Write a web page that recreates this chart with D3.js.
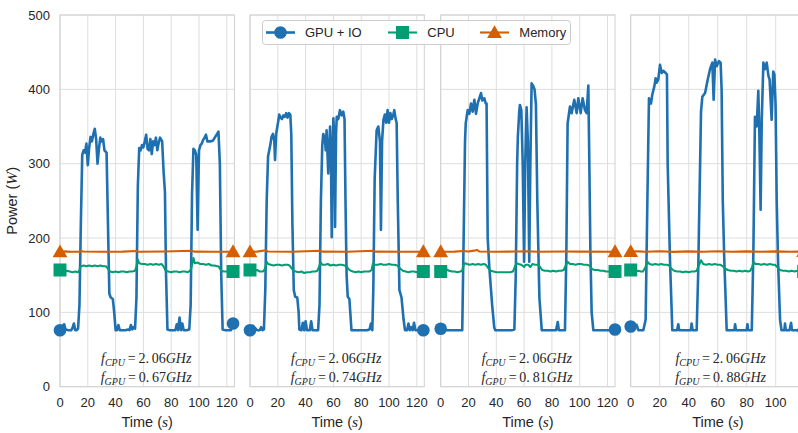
<!DOCTYPE html>
<html><head><meta charset="utf-8">
<script src="https://cdn.jsdelivr.net/npm/d3@7"></script>
<style>
body{margin:0;background:#fff}
text{font-family:"Liberation Sans",Arial,sans-serif;fill:#262626}
</style>
</head><body>
<svg id="chart" width="798" height="433"></svg>
<script>
// ---------------- DATA ----------------
const seriesNames = ["GPU + IO", "CPU", "Memory"];
const fCPU = ["2.06", "2.06", "2.06", "2.06"];
const fGPU = ["0.67", "0.74", "0.81", "0.88"];
const xMax = [125.5, 125.4, 125.4, 119.5];
const xTicks = [0, 20, 40, 60, 80, 100, 120];
const yTicks = [0, 100, 200, 300, 400, 500];

const gpu1 = [[0,76],[1,78],[2,82],[3,84],[4,77],[6,76],[8,76],[9,79],[10,85],[11,76],[12,76],[13,78],[14,110],[15,220],[16,312],[17,318],[18,315],[19,327],[20,298],[21,322],[22,336],[23,330],[24,340],[25,347],[26,333],[27,300],[28,320],[29,335],[30,330],[31,333],[32,318],[33.5,315],[34.5,220],[35.5,125],[36.5,120],[38,118],[39,100],[40,76],[41,76],[42,83],[43,76],[45,76],[47,76],[49,77],[50,76],[51,83],[52,77],[53,80],[54,78],[55,120],[56,270],[57,321],[58,318],[59,325],[60,322],[61,330],[62,339],[63,320],[64,318],[65,333],[66,313],[67,330],[68,325],[69,335],[70,318],[71,328],[72,335],[73.5,330],[74.5,290],[75.5,262],[76.3,150],[77.3,77],[79,76],[81,76],[83,76],[84,84],[85,76],[86,93],[87,76],[88,85],[89,76],[91,76],[93,77],[94,110],[95,260],[96,320],[97,318],[98,312],[99,211],[100,318],[101,325],[102,327],[103,332],[104,335],[105,339],[106,330],[108,330],[110,331],[111,334],[112,337],[113,340],[114,343],[115,300],[116,150],[117,77],[119,76],[121,76],[123,76],[124.5,85]];
const gpu2 = [[0,76],[1,78],[2,82],[3,80],[4,78],[5,76],[7,76],[8,80],[9,76],[10,77],[11,130],[12,250],[13,310],[14.4,323],[15.5,336],[16.5,340],[17.5,330],[18,305],[18.8,340],[19.7,350],[20.5,359],[21,366],[22,362],[23,360],[24,365],[25,363],[26,368],[27,362],[28,368],[29,366],[29.7,340],[30.5,220],[31.5,130],[32.5,121],[34,120],[35,100],[35.5,77],[37,76],[38,86],[39,76],[40,88],[41,76],[43,76],[44,88],[45,76],[47,76],[49,76],[50,110],[51,250],[52,325],[52.7,340],[53.9,332],[54.5,318],[55.1,345],[56.3,287],[57.6,350],[58.3,300],[58.8,201],[59.5,320],[60,361],[60.7,330],[61.2,215],[61.9,340],[62.4,363],[63.5,360],[64.7,372],[65.9,365],[67.1,370],[68,360],[68.7,250],[69.5,150],[70.3,121],[71.5,118],[72.5,90],[73,76],[75,76],[78,76],[81,76],[84,76],[86,77],[87,85],[88,76],[88.7,130],[89.7,280],[91.1,345],[92.3,350],[93.5,330],[94.2,211],[95,330],[96,359],[97,366],[98,355],[99,372],[100,355],[101,368],[102,360],[103,365],[103.8,372],[104.8,360],[105.5,355],[106.3,250],[107.5,130],[109,120],[110.5,90],[111.5,76],[113,76],[114,85],[115,76],[116,80],[117,76],[118,86],[119,76],[121,76],[123,76],[124.7,76]];
const gpu3 = [[0,78],[2,76],[5,76],[8,76],[11,76],[14,76],[15.5,76],[16.5,200],[17.5,330],[18,354],[19.4,372],[20.6,367],[21.8,381],[23,370],[24.2,386],[25.4,367],[26.6,381],[27.8,388],[29,395],[29.9,385],[31.4,388],[32.4,381],[33,381],[33.8,200],[35,160],[37,110],[38.5,80],[39.2,76],[42,76],[45,76],[48,76],[51,76],[53,77],[54,150],[55,300],[55.5,336],[56.5,370],[57,379],[58,372],[59,300],[60,168],[60.8,300],[61.8,376],[62.7,330],[63.7,168],[64.5,300],[65.4,408],[66.5,405],[67.5,400],[68.5,380],[69.5,250],[71,120],[72.7,76],[75,76],[78,76],[81,76],[83,76],[84.2,87],[85,76],[87,76],[89.4,76],[90.4,180],[91.3,354],[93,377],[94.2,368],[96.1,386],[97.8,368],[99,388],[100.7,368],[102.1,388],[103.8,372],[105,368],[106.2,405],[106.8,320],[107.7,180],[108.6,100],[109.8,76],[112,76],[115,76],[118,76],[121,76],[125.4,77]];
const gpu4 = [[0,81],[2,80],[4.1,83],[5.3,76],[7,76],[8.7,76],[10.3,90],[11.5,250],[12.6,388],[14,381],[14.9,393],[16.3,404],[17.2,415],[17.9,409],[19,413],[20.2,433],[21.4,422],[22.5,425],[24.1,422],[25,420],[25.5,300],[27.1,170],[28.7,76],[30,76],[32,76],[32.8,84],[33.5,76],[36,76],[39,76],[41.5,76],[42,85],[42.7,76],[45.5,76],[46.5,150],[48.5,370],[49.4,390],[51.3,395],[53.1,413],[54.7,427],[56.3,436],[57.2,386],[58.2,440],[59.3,431],[60.9,438],[62,436],[62.7,400],[63.5,250],[64.5,173],[66.2,76],[69,76],[71.5,76],[72,84],[72.6,76],[75,76],[78,76],[80,76],[80.5,84],[81,76],[83.5,76],[84.6,180],[85.7,363],[86.9,350],[88,398],[88.7,345],[89.6,238],[90.4,360],[91.5,436],[92.6,427],[93.8,436],[95,418],[95.8,413],[97.2,359],[98.3,424],[99.1,420],[99.9,380],[100.7,250],[101.6,170],[103,90],[104,76],[106,76],[106.4,85],[107,76],[109.5,76],[110.6,86],[111.2,76],[114,76],[117,76],[119.3,76]];

const cpu1 = [[0,157],[1,155],[3,154],[5,156],[7,155],[9,154],[11,155],[13,154],[14,157],[15,162],[17,163],[19,162],[21,163],[23,162],[25,163],[27,162],[29,163],[31,162],[33,162],[34,160],[35,157],[36,155],[38,154],[40,155],[42,154],[44,155],[46,155],[48,154],[50,155],[52,155],[54,156],[55,162],[56,171],[57,166],[59,165],[61,165],[63,164],[65,165],[67,164],[69,165],[71,164],[73,165],[74,163],[75,160],[76,156],[78,155],[80,154],[82,155],[84,155],[86,154],[88,155],[90,155],[92,154],[94,157],[95,164],[96,173],[97,166],[99,167],[101,165],[103,165],[105,164],[107,165],[109,163],[111,163],[113,162],[114,162],[115,159],[116,156],[118,155],[120,155],[122,154],[124.5,155]];
const cpu2 = [[0,157],[1,155],[3,156],[5,157],[7,155],[9,155],[10,156],[11,160],[12,168],[13,165],[15,164],[17,163],[19,164],[21,164],[23,163],[25,164],[27,164],[28.5,163],[30,159],[31.5,156],[33,155],[35,154],[37,155],[39,153],[41,154],[43,154],[45,155],[47,155],[48.5,156],[50,163],[51,167],[52,164],[54,164],[56,165],[58,163],[60,164],[62,163],[64,164],[66,164],[68,163],[69.5,162],[71,158],[72.5,156],[74,155],[76,154],[78,155],[80,154],[82,155],[84,155],[86,155],[87.5,157],[88.5,166],[90,164],[92,164],[94,165],[96,164],[98,164],[100,165],[102,164],[104,164],[106,163],[108,159],[110,156],[112,155],[114,154],[116,155],[118,155],[120,154],[122,155],[124.7,155]];
const cpu3 = [[0,155],[1,155],[2,157],[4,158],[6,156],[8,155],[10,155],[12,154],[14,155],[15.5,156],[16.5,164],[17.5,166],[19,165],[21,164],[23,165],[25,164],[27,165],[29,164],[31,165],[32.5,164],[34,160],[36,156],[38,155],[40,154],[42,154],[44,154],[46,154],[48,154],[50,154],[52,155],[53.5,162],[54.6,166],[56,165],[58,164],[60,161],[61,164],[63,164],[64.5,161],[66,165],[68,164],[70,164],[71.5,161],[73,157],[75,156],[77,156],[79,155],[81,156],[83,155],[85,156],[87,156],[88.5,157],[90,163],[91.3,168],[93,165],[95,165],[97,164],[99,165],[101,165],[103,164],[105,164],[107,163],[109,158],[111,157],[113,157],[115,156],[117,156],[119,155],[121,155],[123,155],[125.4,155]];
const cpu4 = [[0,157],[1,155],[3,155],[5,156],[7,155],[8.5,155],[10,160],[11.5,168],[13,165],[15,164],[17,165],[19,164],[21,165],[23,164],[25,164],[26.5,163],[28,159],[30,156],[32,155],[34,155],[36,154],[38,155],[40,154],[42,155],[44,155],[45.5,156],[47,163],[48.5,170],[50,165],[52,164],[54,165],[56,164],[58,165],[60,164],[62,164],[63.5,162],[65,159],[67,157],[69,156],[71,156],[73,155],[75,156],[77,155],[79,156],[81,155],[82.5,156],[84,162],[84.6,168],[86,165],[88,165],[90,164],[92,165],[94,164],[96,165],[98,164],[99.5,164],[101,161],[103,157],[105,156],[107,156],[109,155],[111,156],[113,155],[115,156],[117,155],[119.3,155]];

const mem1 = [[0,181.5],[3,182],[8,181.5],[14,181.5],[15,183],[16.5,181.8],[30,181.5],[45,181.7],[55,182.5],[56.5,181.6],[75,181.8],[95,182.8],[96.5,181.7],[110,181.5],[124.5,181.6]];
const mem2 = [[0,181.5],[5,181.7],[11.5,183.5],[13,181.8],[30,181.6],[50.5,182.8],[52,181.7],[70,181.5],[88.5,182.8],[90,181.7],[110,181.5],[124.7,181.6]];
const mem3 = [[0,181.6],[10,181.7],[16.5,182.5],[20,181.8],[24,183],[26,184],[28,181.8],[40,181.6],[55,181.8],[62,182.3],[70,181.6],[90,181.8],[100,181.7],[125.4,181.6]];
const mem4 = [[0,181.8],[5,182],[10,181.5],[20,182.3],[30,181.4],[40,182],[50,181.6],[60,182.2],[70,181.5],[80,182.1],[90,181.6],[100,182],[110,181.5],[119.3,181.8]];

const gpuData = [gpu1, gpu2, gpu3, gpu4];
const cpuData = [cpu1, cpu2, cpu3, cpu4];
const memData = [mem1, mem2, mem3, mem4];

// ---------------- LAYOUT ----------------
const colors = ["#1f70b0", "#029e73", "#d55e00"];
const panelLeft = [60, 250, 440.7, 630.7];
const pxPerUnit = [1.39, 1.39, 1.39, 1.45];
const plotTop = 15, plotBottom = 386.7;
const svg = d3.select("#chart");

const y = d3.scaleLinear().domain([0, 500]).range([plotBottom, plotTop]);
const symCircle = d3.symbol().type(d3.symbolCircle).size(Math.PI * 6.3 * 6.3);
const symSquare = d3.symbol().type(d3.symbolSquare).size(13 * 13);
const symTri = d3.symbol().type(d3.symbolTriangle).size(95);
const symbols = [symCircle, symSquare, symTri];

for (let p = 0; p < 4; p++) {
  const x0 = panelLeft[p];
  const x = d3.scaleLinear().domain([0, xMax[p]]).range([x0, x0 + xMax[p] * pxPerUnit[p]]);
  const g = svg.append("g");
  const ticksX = xTicks.filter(t => t <= xMax[p]);
  // grid
  g.selectAll(".gx").data(ticksX).join("line")
    .attr("x1", d => x(d)).attr("x2", d => x(d)).attr("y1", plotTop).attr("y2", plotBottom)
    .attr("stroke", "#dedede").attr("stroke-width", 1);
  g.selectAll(".gy").data(yTicks).join("line")
    .attr("x1", x.range()[0]).attr("x2", x.range()[1]).attr("y1", d => y(d)).attr("y2", d => y(d))
    .attr("stroke", "#dedede").attr("stroke-width", 1);
  // frame
  g.append("rect").attr("x", x.range()[0]).attr("y", plotTop)
    .attr("width", x.range()[1] - x.range()[0]).attr("height", plotBottom - plotTop)
    .attr("fill", "none").attr("stroke", "#d0d0d0").attr("stroke-width", 1);
  // x tick labels
  g.selectAll(".tx").data(ticksX).join("text")
    .attr("x", d => x(d)).attr("y", 406.5).attr("text-anchor", "middle")
    .style("font-size", "13px").text(d => d);
  // x axis title
  const xt = g.append("text").attr("x", x0 + 125.5 * 1.39 / 2).attr("y", 426.5)
    .attr("text-anchor", "middle").style("font-size", "14.5px");
  xt.append("tspan").text("Time (");
  xt.append("tspan").style("font-family", "'Liberation Serif',serif").style("font-style", "italic").style("font-size", "15.5px").text("s");
  xt.append("tspan").text(")");

  // lines
  const line = d3.line().x(d => x(d[0])).y(d => y(d[1]));
  const sets = [gpuData[p], cpuData[p], memData[p]];
  const widths = [2.6, 2.1, 2.1];
  sets.forEach((data, i) => {
    g.append("path").datum(data).attr("d", line)
      .attr("fill", "none").attr("stroke", colors[i]).attr("stroke-width", widths[i])
      .attr("stroke-linejoin", "round");
    const ends = [data[0], data[data.length - 1]];
    g.selectAll(null).data(ends).join("path")
      .attr("d", symbols[i])
      .attr("transform", d => `translate(${x(d[0])},${y(d[1]) + (i === 2 ? 1.2 : 0)})`)
      .attr("fill", colors[i]);
  });

  // annotation
  const cx = x(62);
  [[fCPU[p], "CPU", 363.3], [fGPU[p], "GPU", 381.5]].forEach(([val, sub, yy]) => {
    const t = g.append("text").attr("x", cx).attr("y", yy).attr("text-anchor", "middle")
      .style("font-family", "'Liberation Serif',serif").style("font-size", "14px");
    t.append("tspan").style("font-style", "italic").text("f");
    t.append("tspan").attr("dy", 3).style("font-style", "italic").style("font-size", "10px").text(sub);
    t.append("tspan").attr("dy", -3).text("\u2009=\u2009" + val.replace(".", ".\u2009"));
    t.append("tspan").style("font-style", "italic").text("GHz");
  });
}

// y axis (first panel)
svg.selectAll(".ty").data(yTicks).join("text")
  .attr("x", 50).attr("y", d => y(d)).attr("dy", "0.35em").attr("text-anchor", "end")
  .style("font-size", "13px").text(d => d);
const yt = svg.append("text").attr("transform", "translate(17,200.8) rotate(-90)")
  .attr("text-anchor", "middle").style("font-size", "14.5px");
yt.append("tspan").text("Power (");
yt.append("tspan").style("font-family", "'Liberation Serif',serif").style("font-style", "italic").style("font-size", "15.5px").text("W");
yt.append("tspan").text(")");

// legend
const lg = svg.append("g");
lg.append("rect").attr("x", 262.5).attr("y", 20.5).attr("width", 308).attr("height", 24)
  .attr("rx", 3).attr("fill", "rgba(255,255,255,0.85)").attr("stroke", "#cccccc");
const legX = [266, 388, 480];
const legText = [305, 427.3, 519.3];
seriesNames.forEach((name, i) => {
  lg.append("line").attr("x1", legX[i]).attr("x2", legX[i] + 29).attr("y1", 32.5).attr("y2", 32.5)
    .attr("stroke", colors[i]).attr("stroke-width", i === 0 ? 2.6 : 2.1);
  lg.append("path").attr("d", symbols[i]).attr("transform", `translate(${legX[i] + 14.5},${32.5 + (i === 2 ? 1.2 : 0)})`)
    .attr("fill", colors[i]);
  lg.append("text").attr("x", legText[i]).attr("y", 37).style("font-size", "13px").text(name);
});
</script>
</body></html>
